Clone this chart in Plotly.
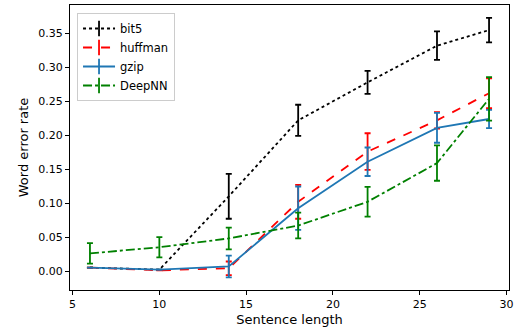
import plotly.graph_objects as go

x = [6, 10, 14, 18, 22, 26, 29]

bit5 = [0.005, 0.002, 0.110, 0.222, 0.278, 0.332, 0.355]
bit5_err = [0.0, 0.0, 0.033, 0.023, 0.017, 0.021, 0.018]

huffman = [0.005, 0.001, 0.004, 0.102, 0.176, 0.222, 0.262]
huffman_err = [0.0, 0.0, 0.010, 0.025, 0.027, 0.012, 0.022]

gzip = [0.005, 0.002, 0.0067, 0.0925, 0.161, 0.211, 0.224]
gzip_err = [0.0, 0.0, 0.016, 0.032, 0.021, 0.022, 0.0135]

deepnn = [0.026, 0.035, 0.048, 0.067, 0.102, 0.159, 0.2537]
deepnn_err = [0.015, 0.015, 0.016, 0.019, 0.022, 0.026, 0.032]

series = [
    ("bit5", bit5, bit5_err, "black", "dot"),
    ("huffman", huffman, huffman_err, "#ff0000", "dash"),
    ("gzip", gzip, gzip_err, "#1f77b4", "solid"),
    ("DeepNN", deepnn, deepnn_err, "#008000", "dashdot"),
]

fig = go.Figure()
for name, ys, errs, color, dash in series:
    fig.add_trace(go.Scatter(
        x=x, y=ys, mode="lines", name=name, showlegend=False,
        line=dict(color=color, dash=dash, width=1.8),
        error_y=dict(type="data", array=errs, visible=True,
                     color=color, thickness=1.8, width=3),
    ))
for name, ys, errs, color, dash in series:
    fig.add_trace(go.Scatter(
        x=[None], y=[None], mode="lines+markers", name=name,
        line=dict(color=color, dash=dash, width=1.8),
        marker=dict(symbol="line-ns-open", size=11,
                    line=dict(color=color, width=1.8)),
    ))

fig.update_layout(
    width=519, height=332,
    margin=dict(l=70, r=10, t=5, b=42, autoexpand=False),
    plot_bgcolor="white", paper_bgcolor="white",
    font=dict(family="DejaVu Sans", size=11, color="black"),
    legend=dict(x=0.016, y=0.972, xanchor="left", yanchor="top",
                bgcolor="rgba(255,255,255,0.8)", bordercolor="#cccccc",
                borderwidth=1, font=dict(size=11.5), tracegroupgap=0,
                itemwidth=32),
)
fig.update_xaxes(
    range=[4.85, 30.15], tickvals=[5, 10, 15, 20, 25, 30],
    showline=True, linecolor="black", linewidth=1, mirror=True,
    ticks="outside", ticklen=4, tickcolor="black", showgrid=False, zeroline=False,
    automargin=False,
    title=dict(text="Sentence length", standoff=4),
)
fig.update_yaxes(
    range=[-0.028, 0.392], tickvals=[0, 0.05, 0.1, 0.15, 0.2, 0.25, 0.3, 0.35],
    tickformat=".2f",
    showline=True, linecolor="black", linewidth=1, mirror=True,
    ticks="outside", ticklen=4, tickcolor="black", showgrid=False, zeroline=False,
    automargin=False,
    title=dict(text="Word error rate", standoff=6),
)

fig.write_html("out.html", config={"displayModeBar": False},
               post_script="document.body.style.margin='0';document.body.style.overflow='hidden';")
